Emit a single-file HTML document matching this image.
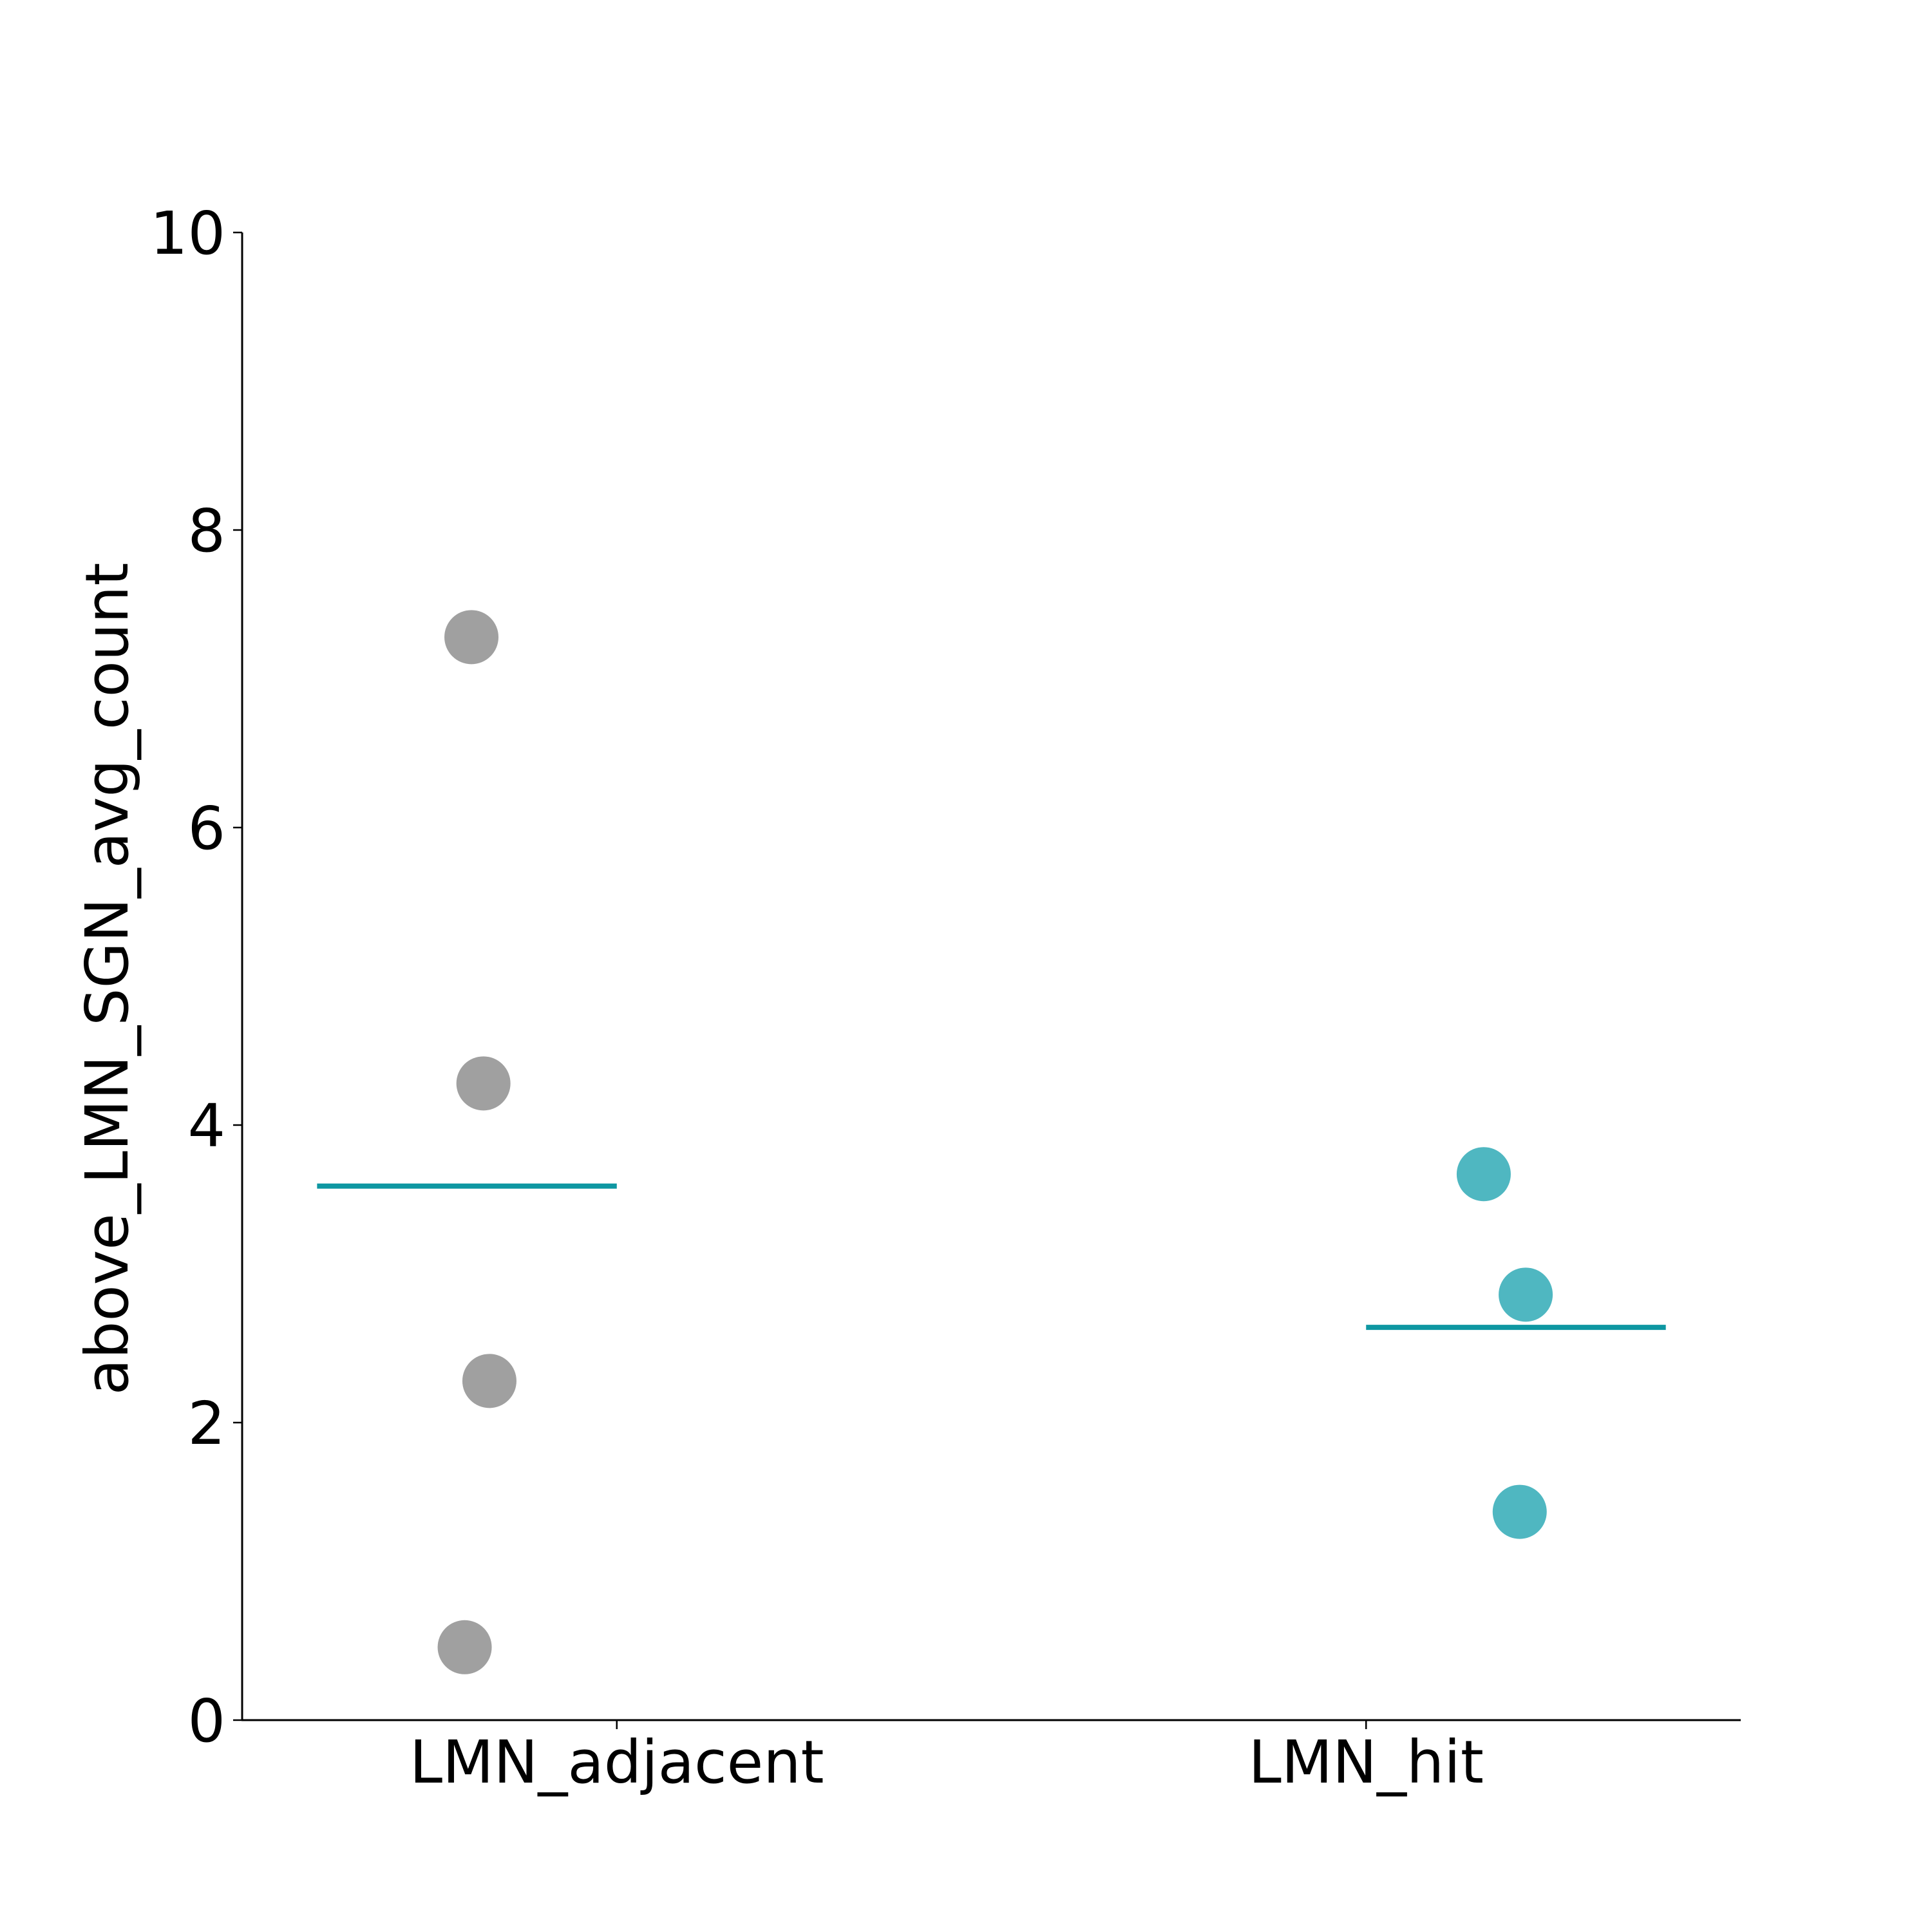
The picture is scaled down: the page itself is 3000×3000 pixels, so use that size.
<!DOCTYPE html>
<html><head><meta charset="utf-8"><style>
html,body{margin:0;padding:0;background:#fff;}
svg{display:block;}
text{font-family:"DejaVu Sans","Liberation Sans",sans-serif;fill:#000;}
</style></head><body>
<svg id="chart" width="3000" height="3000" viewBox="0 0 3000 3000" xmlns="http://www.w3.org/2000/svg">
<g id="plot"></g>
</svg>
<script>
const categories = ["LMN_adjacent", "LMN_hit"];
const adjacentValues = [7.28, 4.28, 2.28, 0.49];
const adjacentJitter = [-0.194, -0.178, -0.170, -0.203];
const hitValues = [3.67, 2.86, 1.40];
const hitJitter = [0.157, 0.213, 0.205];
const means = [3.59, 2.64];
const yTicks = [0, 2, 4, 6, 8, 10];

const L = 376, R = 2703, T = 361, B = 2671;
const xMin = -0.5, xMax = 1.5, yMin = 0, yMax = 10;
const xs = v => L + (v - xMin) / (xMax - xMin) * (R - L);
const ys = v => B - (v - yMin) / (yMax - yMin) * (B - T);
const NS = "http://www.w3.org/2000/svg";
const g = document.getElementById("plot");
function mk(tag, attrs) {
  const e = document.createElementNS(NS, tag);
  for (const k in attrs) e.setAttribute(k, attrs[k]);
  g.appendChild(e);
  return e;
}

yTicks.forEach(t => {
  const tk = mk("line", {x1: L - 14, x2: L, y1: ys(t), y2: ys(t), stroke: "#000", "stroke-width": 2.5});
  
  
  const tx = mk("text", {x: L - 26, y: ys(t) + 33, "text-anchor": "end", "font-size": 92});
  tx.textContent = t;
  
  
});
categories.forEach((c, i) => {
  const tk = mk("line", {x1: xs(i), x2: xs(i), y1: B, y2: B + 14, stroke: "#000", "stroke-width": 2.5});
  
  
  const tx = mk("text", {x: xs(i), y: 2768, "text-anchor": "middle", "font-size": 92});
  tx.textContent = c;
  
  
});
const ls = mk("line", {x1: L, x2: L, y1: T, y2: B + 1, stroke: "#000", "stroke-width": 3});


const bs = mk("line", {x1: L - 1, x2: R, y1: B, y2: B, stroke: "#000", "stroke-width": 3});



adjacentValues.forEach((v, i) => {
  const c = mk("circle", {cx: xs(0 + adjacentJitter[i]), cy: ys(v), r: 42, fill: "#a0a0a0"});
  
  
});
hitValues.forEach((v, i) => {
  const c = mk("circle", {cx: xs(1 + hitJitter[i]), cy: ys(v), r: 42, fill: "#4fb7c1"});
  
  
});
const m0 = mk("line", {x1: xs(-0.4), x2: xs(0), y1: ys(means[0]), y2: ys(means[0]), stroke: "#0e97a2", "stroke-width": 8});


const m1 = mk("line", {x1: xs(1), x2: xs(1.4), y1: ys(means[1]), y2: ys(means[1]), stroke: "#0e97a2", "stroke-width": 8});



const yt = mk("text", {x: 0, y: 0, "text-anchor": "middle", "font-size": 92, transform: "translate(198,1520) rotate(-90)"});
yt.textContent = "above_LMN_SGN_avg_count";


</script>
</body></html>
